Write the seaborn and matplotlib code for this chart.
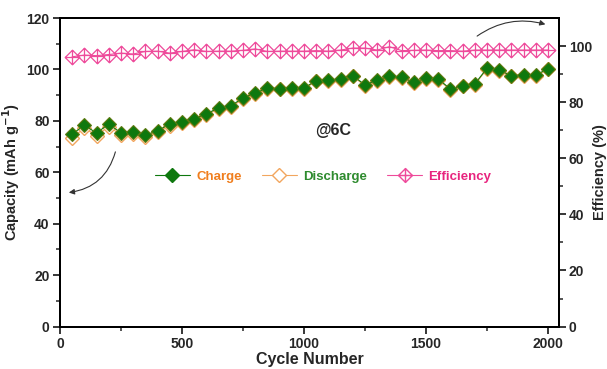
import numpy as np
import pandas as pd
import matplotlib
matplotlib.use("Agg")
import matplotlib.pyplot as plt
from matplotlib.path import Path
from matplotlib.lines import Line2D
import seaborn as sns

cycles = list(range(50, 2001, 50))
charge = [74.9, 78.3, 75.3, 78.8, 75.3, 75.5, 74.4, 76.2, 78.8, 79.6,
          80.8, 82.8, 85.0, 85.9, 88.9, 90.9, 92.7, 92.6, 92.9, 92.8,
          95.7, 95.8, 96.4, 97.6, 94.0, 95.9, 97.4, 97.0, 95.0, 96.6,
          96.3, 92.4, 93.7, 94.4, 100.5, 99.7, 97.6, 97.9, 97.9, 100.3]
discharge = [73.4, 77.2, 74.3, 77.8, 74.6, 74.9, 73.9, 75.7, 78.2, 79.1,
             80.3, 82.4, 84.6, 85.5, 88.4, 90.5, 92.4, 92.3, 92.6, 92.5,
             95.4, 95.5, 96.1, 97.3, 93.7, 95.6, 97.1, 96.7, 94.7, 96.3,
             96.0, 92.1, 93.4, 94.1, 100.2, 99.4, 97.3, 97.6, 97.6, 100.0]
efficiency = [96.2, 96.8, 96.6, 97.0, 97.5, 97.2, 98.1, 98.2, 97.5, 98.1,
              98.7, 98.1, 98.2, 98.2, 98.5, 99.0, 98.1, 98.2, 98.2, 98.2,
              98.4, 98.2, 98.6, 99.3, 99.3, 98.6, 99.8, 98.4, 98.5, 98.6,
              98.4, 98.4, 98.2, 98.6, 98.6, 98.6, 98.6, 98.6, 98.6, 98.6]
x_ticks = [0, 500, 1000, 1500, 2000]
left_ticks = [0, 20, 40, 60, 80, 100, 120]
right_ticks = [0, 20, 40, 60, 80, 100]

df = pd.DataFrame({"cycle": cycles, "charge": charge,
                   "discharge": discharge, "efficiency": efficiency})

sns.set_style("ticks")
plt.rcParams["font.family"] = ["Liberation Sans", "DejaVu Sans"]
plt.rcParams["font.weight"] = "bold"

GREEN = "#0E780E"
ORANGE = "#F2A65E"
PINK = "#EE4B9B"

eff_marker = Path(
    [(0, 1), (1, 0), (0, -1), (-1, 0), (0, 1),
     (0, 1), (0, -1), (-1, 0), (1, 0)],
    [Path.MOVETO, Path.LINETO, Path.LINETO, Path.LINETO, Path.CLOSEPOLY,
     Path.MOVETO, Path.LINETO, Path.MOVETO, Path.LINETO])

fig = plt.figure(figsize=(6.07, 3.69), dpi=100)
ax = fig.add_axes([0.0988, 0.115, 0.8222, 0.836])
ax2 = ax.twinx()

sns.lineplot(data=df, x="cycle", y="discharge", ax=ax, color=ORANGE, lw=0.8,
             marker="D", markersize=7.5, markerfacecolor="white",
             markeredgecolor=ORANGE, markeredgewidth=1.0, zorder=2)
sns.lineplot(data=df, x="cycle", y="charge", ax=ax, color=GREEN, lw=0.8,
             marker="D", markersize=7.5, markerfacecolor=GREEN,
             markeredgecolor="#5E7A10", markeredgewidth=0.8, zorder=3)
sns.lineplot(data=df, x="cycle", y="efficiency", ax=ax2, color=PINK, lw=0.8,
             marker=eff_marker, markersize=10.5, markerfacecolor="none",
             markeredgecolor=PINK, markeredgewidth=0.9)

ax.set_xlim(0, 2045)
ax.set_ylim(0, 120)
ax2.set_ylim(0, 110)
ax.set_xticks(x_ticks)
ax.set_yticks(left_ticks)
ax2.set_yticks(right_ticks)
ax.set_xticks(np.arange(250, 2001, 500), minor=True)
ax.set_yticks(np.arange(10, 120, 20), minor=True)
ax2.set_yticks(np.arange(10, 110, 20), minor=True)

for a in (ax, ax2):
    for s in a.spines.values():
        s.set_linewidth(1.4)
        s.set_color("black")
        s.set_visible(True)
    a.tick_params(which="major", length=5, width=1.3, labelsize=10,
                  direction="out", pad=2.5)
    a.tick_params(which="minor", length=3, width=1.1, direction="out")
ax.tick_params(axis="y", which="both", right=False)
ax2.tick_params(axis="y", which="both", left=False)
ax2.tick_params(axis="y", which="major", pad=2)
for lbl in ax.get_xticklabels() + ax.get_yticklabels() + ax2.get_yticklabels():
    lbl.set_fontweight("bold")

ax.set_xlabel("Cycle Number", fontsize=11.5, fontweight="bold", labelpad=1)
ax.set_ylabel(r"Capacity (mAh g$^{\mathbf{-1}}$)", fontsize=10.5,
              fontweight="bold", labelpad=3)
ax2.set_ylabel("Efficiency (%)", fontsize=10.5, fontweight="bold",
               labelpad=1)

ax.text(0.547, 0.637, "@6C", transform=ax.transAxes, fontsize=11.5,
        fontweight="bold", ha="center", va="center")

ax.annotate("", xy=(25, 52), xytext=(230, 69),
            arrowprops=dict(arrowstyle="-|>", color="#333333", lw=0.8,
                            connectionstyle="arc3,rad=-0.35",
                            mutation_scale=8))
ax2.annotate("", xy=(2000, 107.5), xytext=(1700, 103),
             arrowprops=dict(arrowstyle="-|>", color="#333333", lw=0.8,
                             connectionstyle="arc3,rad=-0.25",
                             mutation_scale=8))

handles = [
    Line2D([], [], color=GREEN, lw=0.8, marker="D", markersize=7.5,
           markerfacecolor=GREEN, markeredgecolor=GREEN),
    Line2D([], [], color=ORANGE, lw=0.8, marker="D", markersize=7.5,
           markerfacecolor="white", markeredgecolor=ORANGE),
    Line2D([], [], color=PINK, lw=0.8, marker=eff_marker, markersize=10,
           markerfacecolor="none", markeredgecolor=PINK),
]
leg = ax.legend(handles, ["Charge", "Discharge", "Efficiency"], ncol=3,
                loc="center", bbox_to_anchor=(0.527, 0.485), frameon=False,
                fontsize=9.5, handlelength=2.7, columnspacing=1.5,
                handletextpad=0.45, borderpad=0.2)
for t, c in zip(leg.get_texts(), ["#F07E1E", "#2E8B2E", "#E8247F"]):
    t.set_color(c)
    t.set_fontweight("bold")

fig.savefig("out.png", dpi=100)
